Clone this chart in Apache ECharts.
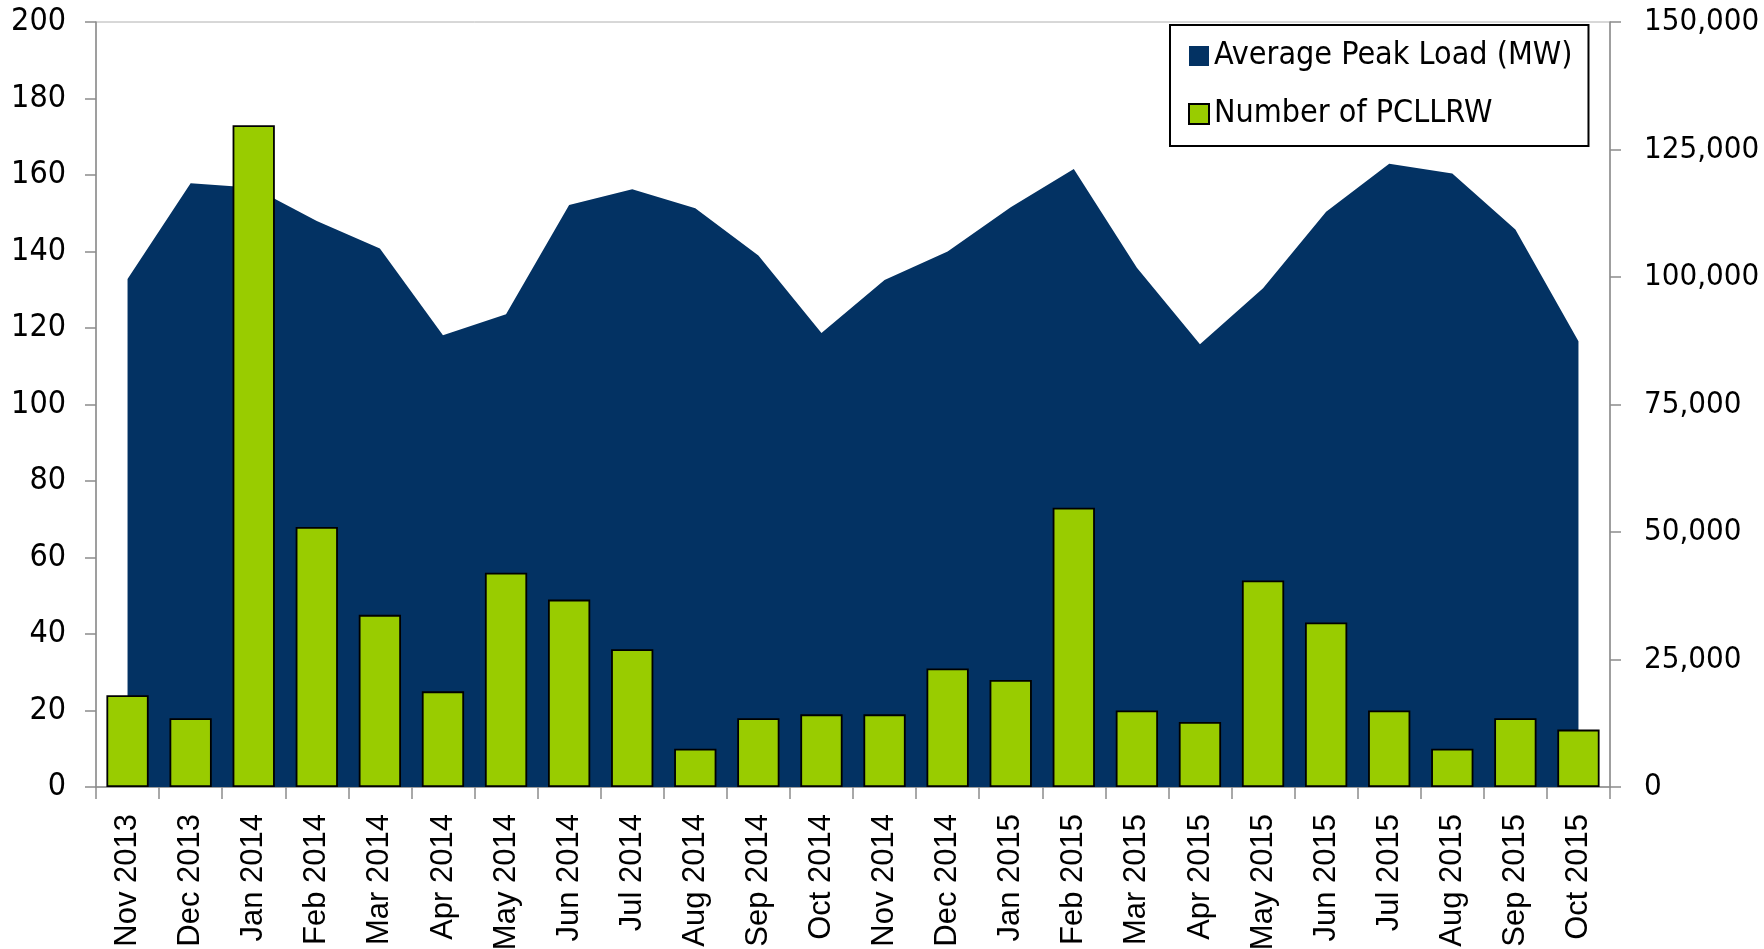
<!DOCTYPE html>
<html>
<head>
<meta charset="utf-8">
<script src="https://cdn.jsdelivr.net/npm/echarts@6/dist/echarts.min.js"></script>
<style>
html,body{margin:0;padding:0;background:#fff;}
#chart{width:1764px;height:949px;}
</style>
</head>
<body>
<div id="chart"></div>
<script>
const categories = ['Nov 2013','Dec 2013','Jan 2014','Feb 2014','Mar 2014','Apr 2014','May 2014','Jun 2014','Jul 2014','Aug 2014','Sep 2014','Oct 2014','Nov 2014','Dec 2014','Jan 2015','Feb 2015','Mar 2015','Apr 2015','May 2015','Jun 2015','Jul 2015','Aug 2015','Sep 2015','Oct 2015'];
const peakLoad = [99600,118400,117500,111000,105600,88600,92700,114100,117200,113500,104200,89000,99400,105000,113700,121200,101800,86800,97800,112800,122200,120300,109300,87400];
const pcllrw = [24,18,173,68,45,25,56,49,36,10,18,19,19,31,28,73,20,17,54,43,20,10,18,15];
const leftTicks = {min:0, max:200, interval:20};
const rightTicks = {min:0, max:150000, interval:25000};

const narrow = "'Liberation Sans Narrow','DejaVu Sans Condensed','Arial Narrow',sans-serif";
const chart = echarts.init(document.getElementById('chart'));
chart.setOption({
  animation:false,
  backgroundColor:'#fff',
  grid:{left:96,right:154,top:22,bottom:162,containLabel:false,outerBoundsMode:'none',show:true,borderColor:'#b0b0b0',borderWidth:1,backgroundColor:'transparent'},
  legend:{
    orient:'vertical', left:1170, top:25,
    padding:[15,16,16,18], itemGap:26,
    itemWidth:20, itemHeight:20,
    backgroundColor:'#fff', borderColor:'#000', borderWidth:2,
    textStyle:{fontFamily:narrow,fontSize:32,color:'#000'},
    data:[
      {name:'Average Peak Load (MW)', icon:'rect'},
      {name:'Number of PCLLRW', icon:'rect'}
    ]
  },
  xAxis:{
    type:'category', data:categories, boundaryGap:true,
    axisLine:{lineStyle:{color:'#8c8c8c',width:1.5}},
    axisTick:{show:true,length:12,interval:0,lineStyle:{color:'#8c8c8c',width:1.5}},
    axisLabel:{rotate:90,interval:0,margin:27,fontFamily:"'Liberation Sans',Arial,sans-serif",fontSize:31,color:'#000'}
  },
  yAxis:[
    {type:'value',min:leftTicks.min,max:leftTicks.max,interval:leftTicks.interval,position:'left',
     axisLine:{show:true,lineStyle:{color:'#8c8c8c',width:1.5}},
     axisTick:{show:true,length:11,lineStyle:{color:'#8c8c8c',width:1.5}},
     splitLine:{show:false},
     axisLabel:{margin:30,fontFamily:narrow,fontSize:32,color:'#000'}},
    {type:'value',min:rightTicks.min,max:rightTicks.max,interval:rightTicks.interval,position:'right',
     axisLine:{show:true,lineStyle:{color:'#8c8c8c',width:1.5}},
     axisTick:{show:true,length:11,lineStyle:{color:'#8c8c8c',width:1.5}},
     splitLine:{show:false},
     axisLabel:{margin:34,fontFamily:narrow,fontSize:31,color:'#000',
       formatter:v=>v.toString().replace(/\B(?=(\d{3})+(?!\d))/g,',')}}
  ],
  series:[
    {name:'Average Peak Load (MW)', type:'line', yAxisIndex:1, data:peakLoad,
     symbol:'none', lineStyle:{width:0,color:'#033263'}, itemStyle:{color:'#033263'},
     areaStyle:{color:'#033263',opacity:1}, z:1},
    {name:'Number of PCLLRW', type:'bar', yAxisIndex:0, data:pcllrw,
     barWidth:'67%',
     itemStyle:{color:'#99cc00',borderColor:'#000',borderWidth:1.8}, z:2}
  ]
});
</script>
</body>
</html>
